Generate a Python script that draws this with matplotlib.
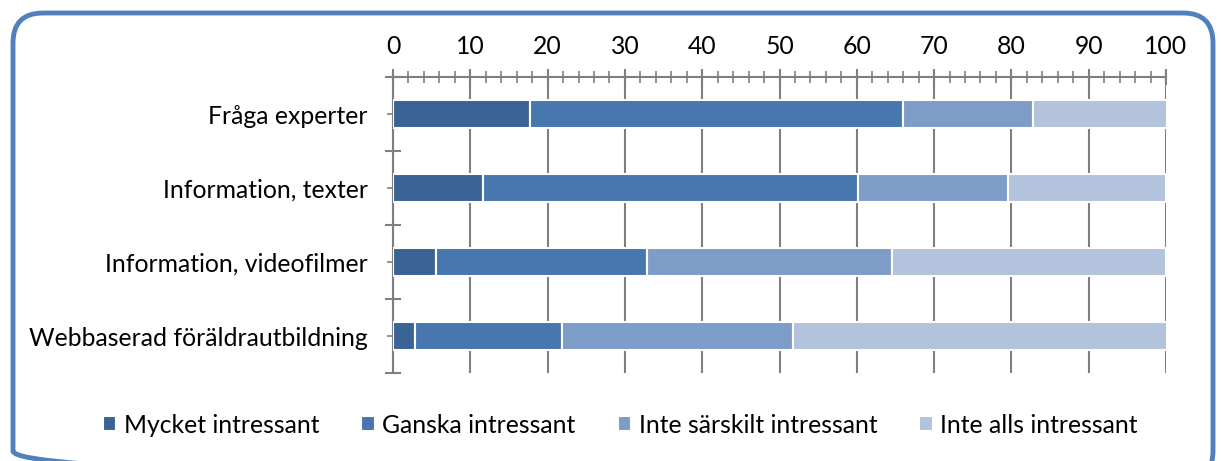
import matplotlib.pyplot as plt
import numpy as np
from matplotlib.patches import FancyBboxPatch
from matplotlib.ticker import MultipleLocator

plt.rcParams['font.family'] = ['Lato', 'DejaVu Sans']

categories = ["Fråga experter", "Information, texter", "Information, videofilmer",
              "Webbaserad föräldrautbildning"]
series = ["Mycket intressant", "Ganska intressant", "Inte särskilt intressant",
          "Inte alls intressant"]
mycket = [17.7, 11.6, 5.6, 2.8]
ganska = [48.3, 48.6, 27.3, 19.0]
inte_sarskilt = [16.8, 19.3, 31.7, 29.9]
inte_alls = [17.3, 20.5, 35.4, 48.5]
colors = ["#3B6496", "#4877B0", "#7E9CC8", "#B4C3DD"]

W, H = 1221, 461
fig = plt.figure(figsize=(W / 100, H / 100), dpi=100)

# rounded blue frame, drawn in a pixel-unit background axes
bg = fig.add_axes([0, 0, 1, 1], zorder=-1)
bg.set_xlim(0, W)
bg.set_ylim(H, 0)
bg.axis("off")
bg.add_patch(FancyBboxPatch((13, 13), 1200, 468,
                            boxstyle="round,pad=0,rounding_size=30",
                            fill=False, edgecolor="#4F81BD", linewidth=3.5,
                            clip_on=True))

ax = fig.add_axes([393 / W, 1 - 373 / H, (1166 - 393) / W, (373 - 77) / H])

y = np.arange(len(categories))
left = np.zeros(len(categories))
for vals, name, c in zip([mycket, ganska, inte_sarskilt, inte_alls], series, colors):
    ax.barh(y, vals, left=left, height=0.38, color=c, edgecolor="white",
            linewidth=1.5, label=name, zorder=3)
    left += np.array(vals)

ax.set_xlim(0, 100)
ax.set_ylim(len(categories) - 0.5, -0.5)
ax.xaxis.tick_top()
ax.xaxis.set_major_locator(MultipleLocator(10))
ax.xaxis.set_minor_locator(MultipleLocator(2))
ax.tick_params(axis="x", which="major", direction="inout", length=12, width=1.5,
               color="#7F7F7F", labelsize=17.8, pad=8)
ax.tick_params(axis="x", which="minor", direction="inout", length=8, width=1.2,
               color="#7F7F7F")
ax.grid(axis="x", color="#7F7F7F", linewidth=1.5, zorder=0)

ax.set_yticks(y)
ax.set_yticklabels(categories)
ax.set_yticks(np.arange(len(categories) + 1) - 0.5, minor=True)
ax.tick_params(axis="y", which="major", direction="inout", length=8, width=1.2,
               color="#7F7F7F", labelsize=17.8, pad=14)
ax.tick_params(axis="y", which="minor", direction="inout", length=12, width=1.5,
               color="#7F7F7F")

for s in ["right", "bottom"]:
    ax.spines[s].set_visible(False)
for s in ["left", "top"]:
    ax.spines[s].set_color("#7F7F7F")
    ax.spines[s].set_linewidth(1.5)

fig.legend(loc="center", bbox_to_anchor=(0.508, 1 - 425 / H), ncol=4, frameon=False,
           fontsize=17.8, handlelength=0.55, handleheight=0.55, handletextpad=0.3,
           columnspacing=1.7)

fig.savefig("out.png", dpi=100)
